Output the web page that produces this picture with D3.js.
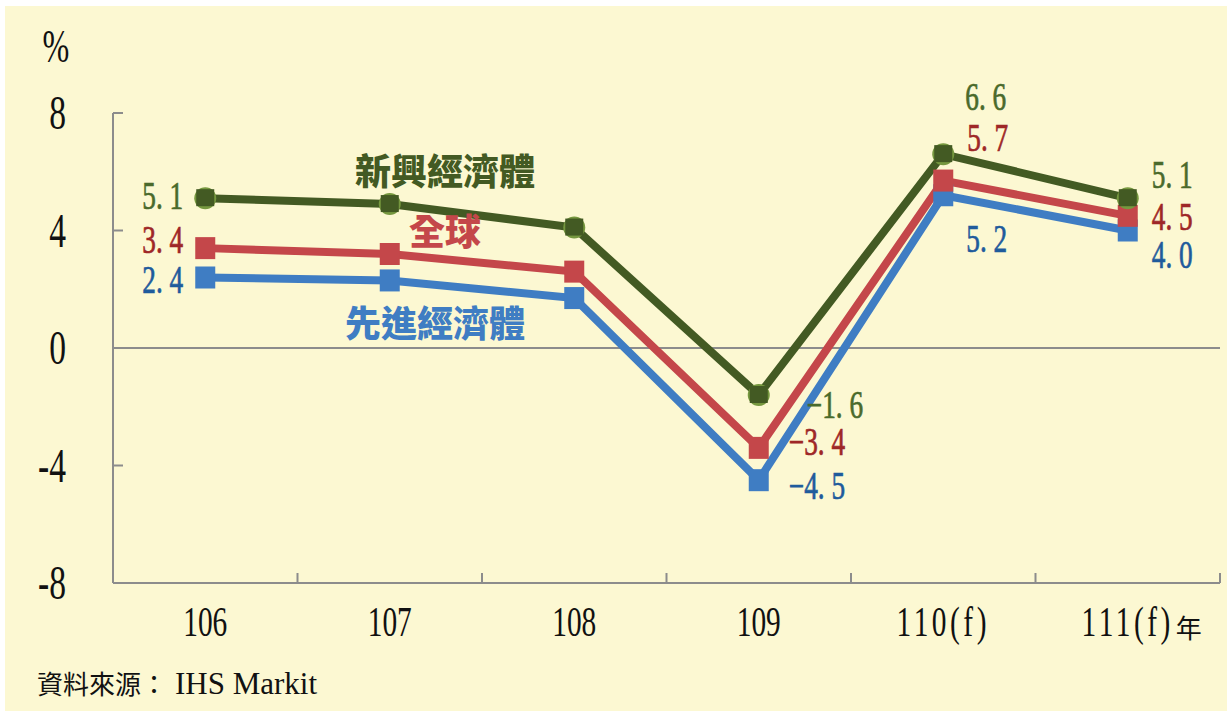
<!DOCTYPE html>
<html>
<head>
<meta charset="utf-8">
<script src="https://cdn.jsdelivr.net/npm/d3@7"></script>
<style>
  body { margin: 0; background: #fff; }
  svg { display: block; }
</style>
</head>
<body>
<svg class="chart"></svg>
<script>
// data
var years = ["106", "107", "108", "109", "110(f)", "111(f)"];
var yTicks = [-8, -4, 0, 4, 8];
var emerging = [5.1, 4.9, 4.1, -1.6, 6.6, 5.1];
var world = [3.4, 3.2, 2.6, -3.4, 5.7, 4.5];
var advanced = [2.4, 2.3, 1.7, -4.5, 5.2, 4.0];
var emergingName = "新興經濟體";
var worldName = "全球";
var advancedName = "先進經濟體";
var unitY = "%";
var unitX = "年";
var source = "資料來源：IHS Markit";

var width = 1227;
var height = 711;
var plotLeft = 113, plotRight = 1220, plotTop = 113, plotBottom = 583;

var svg = d3.select(".chart").attr("width", width).attr("height", height);
svg.append("rect").attr("x", 5).attr("y", 6)
  .attr("width", width - 5).attr("height", height - 6)
  .attr("fill", "#fcf8d2");

var x = d3.scaleBand().domain(years).range([plotLeft, plotRight]);
var y = d3.scaleLinear().domain([-8, 8]).range([plotBottom, plotTop]);
var cx = function (d) { return x(d) + x.bandwidth() / 2; };

var serif = "'Liberation Serif', 'DejaVu Serif', serif";
var cjk = "'Noto Sans CJK TC', 'Noto Sans CJK SC', sans-serif";
var axisGray = "#8c8c8c";

// narrow serif text, like the original's Ming-style digits
function narrow(g, tx, ty, txt, size, anchor, fill) {
  return g.append("text")
    .attr("transform", "translate(" + tx + "," + ty + ") scale(0.7,1)")
    .attr("text-anchor", anchor)
    .attr("font-family", serif)
    .attr("font-size", size)
    .attr("fill", fill)
    .text(txt);
}

// axes
var axes = svg.append("g");
axes.append("line").attr("x1", plotLeft).attr("x2", plotLeft)
  .attr("y1", plotTop).attr("y2", plotBottom)
  .attr("stroke", axisGray).attr("stroke-width", 2);
axes.append("line").attr("x1", plotLeft).attr("x2", plotRight)
  .attr("y1", plotBottom).attr("y2", plotBottom)
  .attr("stroke", axisGray).attr("stroke-width", 2);
axes.append("line").attr("x1", plotLeft).attr("x2", plotRight)
  .attr("y1", y(0)).attr("y2", y(0))
  .attr("stroke", axisGray).attr("stroke-width", 2);

yTicks.forEach(function (t) {
  axes.append("line").attr("x1", plotLeft).attr("x2", plotLeft + 10)
    .attr("y1", y(t)).attr("y2", y(t))
    .attr("stroke", axisGray).attr("stroke-width", 2);
  narrow(axes, 66, y(t) + 16, String(t), 48, "end", "#111");
});

var bounds = years.map(function (d) { return x(d); }).concat([plotRight]);
bounds.forEach(function (b) {
  axes.append("line").attr("x1", b).attr("x2", b)
    .attr("y1", plotBottom).attr("y2", plotBottom - 10)
    .attr("stroke", axisGray).attr("stroke-width", 2);
});

years.forEach(function (d) {
  narrow(axes, cx(d), 636, d, 42, "middle", "#111")
    .attr("letter-spacing", d.indexOf("(") >= 0 ? 5 : 0);
});
axes.append("text")
  .attr("x", cx(years[years.length - 1]) + 48).attr("y", 638)
  .attr("font-family", cjk).attr("font-size", 26).attr("fill", "#111")
  .text(unitX);

narrow(axes, 56, 62, unitY, 46, "middle", "#111");

svg.append("text").attr("x", 37).attr("y", 694)
  .attr("font-family", cjk).attr("font-size", 26).attr("fill", "#111")
  .text(source.slice(0, 5))
  .append("tspan")
  .attr("font-family", serif).attr("font-size", 31)
  .attr("dx", 8)
  .text(source.slice(5));

// series
var series = [
  { vals: advanced, line: "#3f7dc3", label: "#1f5b9c", marker: "square",
    offs: [[-22, 15], [0, 0], [0, 0], [30, 19], [23, 57], [24, 37]] },
  { vals: world, line: "#c4474a", label: "#9e2727", marker: "square",
    offs: [[-22, 5], [0, 0], [0, 0], [30, 7], [24, -30], [24, 14]] },
  { vals: emerging, line: "#435a23", label: "#4a6a2b", marker: "circle",
    offs: [[-22, 11], [0, 0], [0, 0], [48, 23], [22, -44], [24, -10]] }
];

var line = d3.line()
  .x(function (d, i) { return cx(years[i]); })
  .y(function (d) { return y(d); });

series.forEach(function (s) {
  svg.append("path").datum(s.vals)
    .attr("d", line)
    .attr("fill", "none")
    .attr("stroke", s.line)
    .attr("stroke-width", 8)
    .attr("stroke-linejoin", "miter");
});

series.forEach(function (s) {
  var g = svg.append("g");
  s.vals.forEach(function (v, i) {
    var px = cx(years[i]), py = y(v);
    if (s.marker === "circle") {
      g.append("circle").attr("cx", px).attr("cy", py).attr("r", 11)
        .attr("fill", "#76983f");
      g.append("rect").attr("x", px - 9).attr("y", py - 9)
        .attr("width", 18).attr("height", 17).attr("fill", s.line);
    } else {
      g.append("rect").attr("x", px - 10).attr("y", py - 11)
        .attr("width", 20).attr("height", 22).attr("fill", s.line);
    }
  });
});

// value labels (only at 106, 109, 110, 111)
series.forEach(function (s) {
  s.vals.forEach(function (v, i) {
    if (i === 1 || i === 2) return;
    var o = s.offs[i];
    var anchor = i === 0 ? "end" : "start";
    var txt = d3.format(".1f")(v).replace("-", "−").replace(".", ". ");
    narrow(svg, cx(years[i]) + o[0], y(v) + o[1], txt, 39, anchor, s.label)
      .attr("stroke", s.label).attr("stroke-width", 0.7);
  });
});

// series names
var names = [
  { t: emergingName, x: 445, y: 185, c: "#435a23" },
  { t: worldName, x: 445, y: 245, c: "#c4474a" },
  { t: advancedName, x: 435, y: 337, c: "#3f7dc3" }
];
names.forEach(function (n) {
  svg.append("text").attr("x", n.x).attr("y", n.y)
    .attr("text-anchor", "middle")
    .attr("font-family", cjk).attr("font-weight", 900)
    .attr("font-size", 36).attr("fill", n.c)
    .text(n.t);
});
</script>
</body>
</html>
